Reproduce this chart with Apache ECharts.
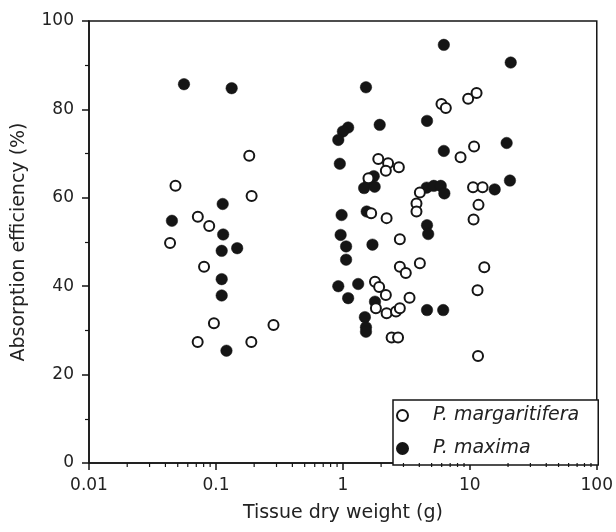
<!DOCTYPE html>
<html>
<head>
<meta charset="utf-8">
<script src="https://cdn.jsdelivr.net/npm/echarts@6/dist/echarts.min.js"></script>
<style>html,body{margin:0;padding:0;background:#fff}#c{width:616px;height:532px}</style>
</head>
<body>
<div id="c"></div>
<script>
const xTickLabels = ['0.01', '0.1', '1', '10', '100'];
const yTicks = [0, 20, 40, 60, 80, 100];
const minorTickValues = [0.02,0.03,0.04,0.05,0.06,0.07,0.08,0.09,
  0.2,0.3,0.4,0.5,0.6,0.7,0.8,0.9, 2,3,4,5,6,7,8,9, 20,30,40,50,60,70,80,90];

const seriesNames = ['P. margaritifera', 'P. maxima'];

// P. margaritifera (open circles): [dry weight g, absorption efficiency %]
const margaritifera = [
  [0.183,69.5],[0.048,62.7],[0.191,60.4],[0.072,55.7],[0.0885,53.6],[0.0435,49.8],
  [0.0806,44.4],[0.0964,31.6],[0.284,31.2],[0.0718,27.4],[0.19,27.4],
  [1.90,68.8],[2.27,67.8],[2.76,66.9],[2.18,66.1],[1.59,64.4],[1.67,56.5],[2.21,55.4],
  [2.81,50.6],[4.04,61.2],[3.8,58.7],[3.8,56.9],[2.81,44.4],[3.13,43.0],[4.04,45.2],
  [1.79,41.0],[1.93,39.8],[2.18,38.0],[1.82,35.0],[2.21,33.9],[2.62,34.3],[2.81,35.0],
  [3.35,37.4],[2.42,28.4],[2.72,28.4],
  [5.98,81.2],[6.47,80.3],[9.7,82.4],[11.3,83.7],[10.8,71.6],[8.45,69.2],[10.6,62.4],
  [12.6,62.4],[11.7,58.4],[10.7,55.1],[13.0,44.3],[11.5,39.1],[11.6,24.2]
];

// P. maxima (filled circles)
const maxima = [
  [0.056,85.7],[0.133,84.8],[0.113,58.6],[0.045,54.8],[0.114,51.7],[0.111,48.0],
  [0.147,48.6],[0.111,41.6],[0.111,37.9],[0.121,25.4],
  [1.52,85.0],[1.95,76.5],[1.10,75.9],[1.0,75.0],[0.92,73.1],[0.946,67.7],[1.75,64.9],
  [1.61,63.6],[1.47,62.2],[1.78,62.5],[0.977,56.1],[1.54,56.9],[0.96,51.6],[1.06,49.0],
  [1.06,46.0],[1.71,49.4],[0.92,40.0],[1.32,40.5],[1.10,37.3],[1.79,36.5],[1.49,33.0],
  [1.52,30.7],[1.52,29.7],
  [4.6,77.4],[6.24,94.6],[21.0,90.6],[6.24,70.6],[19.5,72.4],[4.57,62.3],[5.2,62.7],
  [5.9,62.7],[6.3,61.0],[15.7,61.9],[20.7,63.9],[4.6,53.8],[4.7,51.8],[4.6,34.6],[6.17,34.6]
];

const ink = '#151515';
const font = 'DejaVu Sans';

const chart = echarts.init(document.getElementById('c'), null, {renderer: 'canvas'});
chart.setOption({
  animation: false,
  backgroundColor: '#fff',
  grid: {left: 89, right: 19, top: 21, bottom: 69, show: true, borderColor: ink, borderWidth: 1.5},
  xAxis: {
    type: 'log', logBase: 10, min: 0.01, max: 100,
    name: 'Tissue dry weight (g)', nameLocation: 'middle', nameGap: 41,
    nameTextStyle: {fontFamily: font, fontSize: 19, color: '#222'},
    axisLine: {lineStyle: {color: ink, width: 1.5}},
    axisTick: {inside: false, length: 7, lineStyle: {color: ink, width: 1.5}},
    axisLabel: {fontFamily: font, fontSize: 17, color: '#222', margin: 14,
      formatter: function (v) { const i = Math.round(Math.log10(v)) + 2; return xTickLabels[i] || ''; }},
    splitLine: {show: false}, minorTick: {show: false}
  },
  yAxis: {
    type: 'value', min: yTicks[0], max: yTicks[yTicks.length - 1], interval: 20,
    name: 'Absorption efficiency (%)', nameLocation: 'middle', nameGap: 60,
    nameTextStyle: {fontFamily: font, fontSize: 19, color: '#222'},
    axisLine: {show: true, lineStyle: {color: ink, width: 1.5}},
    axisTick: {show: true, inside: false, length: 7, lineStyle: {color: ink, width: 1.5}},
    minorTick: {show: true, splitNumber: 2, length: 4, lineStyle: {color: ink, width: 1.2}},
    axisLabel: {fontFamily: font, fontSize: 17, color: '#222', margin: 15},
    splitLine: {show: false}
  },
  legend: {
    data: seriesNames, orient: 'vertical', left: 393, top: 400,
    icon: 'circle', itemWidth: 11, itemHeight: 11, itemGap: 14,
    padding: [6, 19, 7, 3],
    borderColor: ink, borderWidth: 1.5, backgroundColor: '#fff',
    textStyle: {fontFamily: font, fontSize: 19, fontStyle: 'italic', color: '#222', padding: [0, 0, 0, 20]}
  },
  series: [
    {
      type: 'custom', name: 'minorTicks', silent: true, clip: false, z: 5,
      data: minorTickValues.map(v => [v, 0]),
      renderItem: function (params, api) {
        const p = api.coord([api.value(0), 0]);
        return {type: 'line', shape: {x1: p[0], y1: p[1], x2: p[0], y2: p[1] + 4},
          style: {stroke: ink, lineWidth: 1.2}};
      }
    },
    {
      name: seriesNames[1], type: 'scatter', data: maxima, symbol: 'circle', symbolSize: 11.5,
      itemStyle: {color: ink, borderColor: ink, borderWidth: 0.5, opacity: 1}, z: 2
    },
    {
      name: seriesNames[0], type: 'scatter', data: margaritifera, symbol: 'circle', symbolSize: 10,
      itemStyle: {color: '#fff', borderColor: ink, borderWidth: 2, opacity: 1}, z: 3
    }
  ]
});
</script>
</body>
</html>
